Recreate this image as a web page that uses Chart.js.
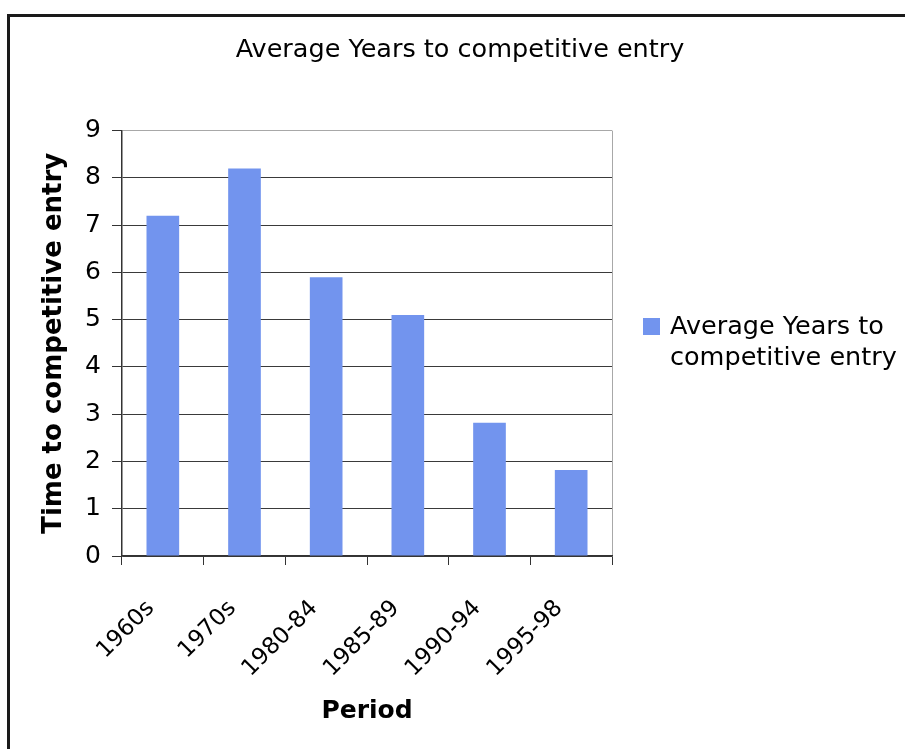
<!DOCTYPE html>
<html>
<head>
<meta charset="utf-8">
<script src="https://cdn.jsdelivr.net/npm/chart.js@4/dist/chart.umd.min.js"></script>
<style>
  body { margin: 0; background: #fff; }
  #wrap { position: relative; width: 905px; height: 749px; }
  #frame { position: absolute; left: 7px; top: 14px; right: -10px; bottom: -10px;
           border-top: 3px solid #1a1a1a; border-left: 3px solid #1a1a1a; pointer-events: none; }
  #legend { position: absolute; left: 643px; top: 310px; font-family: "DejaVu Sans", sans-serif;
            font-size: 25.5px; line-height: 31px; color: #000; white-space: nowrap; }
  #legend .box { position: absolute; left: 0; top: 8px; width: 17px; height: 17px; }
  #legend .txt { margin-left: 27px; }
</style>
</head>
<body>
<div id="wrap">
  <canvas id="myChart" width="905" height="749"></canvas>
  <div id="frame"></div>
  <div id="legend"></div>
</div>
<script>
var periods = ["1960s", "1970s", "1980-84", "1985-89", "1990-94", "1995-98"];
var avgYears = [7.2, 8.2, 5.9, 5.1, 2.82, 1.82];
var seriesName = "Average Years to competitive entry";
var barColor = "#7294ee";
var font = "'DejaVu Sans', sans-serif";

Chart.defaults.font.family = font;
Chart.defaults.color = "#000";

var chart = new Chart("myChart", {
  type: "bar",
  data: {
    labels: periods,
    datasets: [{
      label: seriesName,
      data: avgYears,
      backgroundColor: barColor,
      barPercentage: 0.4,
      categoryPercentage: 1
    }]
  },
  options: {
    responsive: false,
    animation: false,
    layout: { padding: { left: 15, right: 0, top: 0, bottom: 0 } },
    plugins: {
      legend: { display: false },
      tooltip: { enabled: false },
      title: {
        display: true,
        text: seriesName,
        font: { size: 25.5, weight: "normal" },
        color: "#000",
        padding: { top: 35, bottom: 65 }
      }
    },
    scales: {
      x: {
        afterFit: function (s) { s.height = 193; },
        grid: {
          offset: true,
          color: function (c) { return c.tick ? "rgba(0,0,0,0)" : "#a8a8a8"; },
          tickColor: "#333",
          tickLength: 9
        },
        border: { color: "#333", width: 1.5 },
        ticks: { font: { size: 23 }, minRotation: 45, maxRotation: 45, padding: 30, labelOffset: -12, color: "#000" },
        title: { display: true, text: "Period", font: { size: 25, weight: "bold" }, padding: { top: 0, bottom: 23 } }
      },
      y: {
        min: 0,
        max: 9,
        afterFit: function (s) { s.width = 107; },
        grid: {
          color: function (c) { return c.tick && c.tick.value === 9 ? "#a8a8a8" : "#3a3a3a"; },
          tickColor: "#333",
          tickLength: 10
        },
        border: { color: "#333", width: 1.5 },
        ticks: { stepSize: 1, font: { size: 25 }, padding: 11, color: "#000" },
        title: { display: true, text: "Time to competitive entry", font: { size: 26, weight: "bold" }, padding: { top: 24, bottom: 0 } }
      },
      // empty right-hand axis that keeps room for the legend
      y2: {
        type: "linear",
        position: "right",
        afterFit: function (s) { s.width = 293; },
        grid: { display: false },
        border: { display: false },
        ticks: { display: false }
      }
    }
  }
});

// html legend from the dataset
var lg = document.getElementById("legend");
chart.data.datasets.forEach(function (ds) {
  var words = ds.label.split(" ");
  lg.innerHTML = '<span class="box" style="background:' + ds.backgroundColor + '"></span>' +
    '<div class="txt">' + words.slice(0, 3).join(" ") + '<br>' + words.slice(3).join(" ") + '</div>';
});
</script>
</body>
</html>
